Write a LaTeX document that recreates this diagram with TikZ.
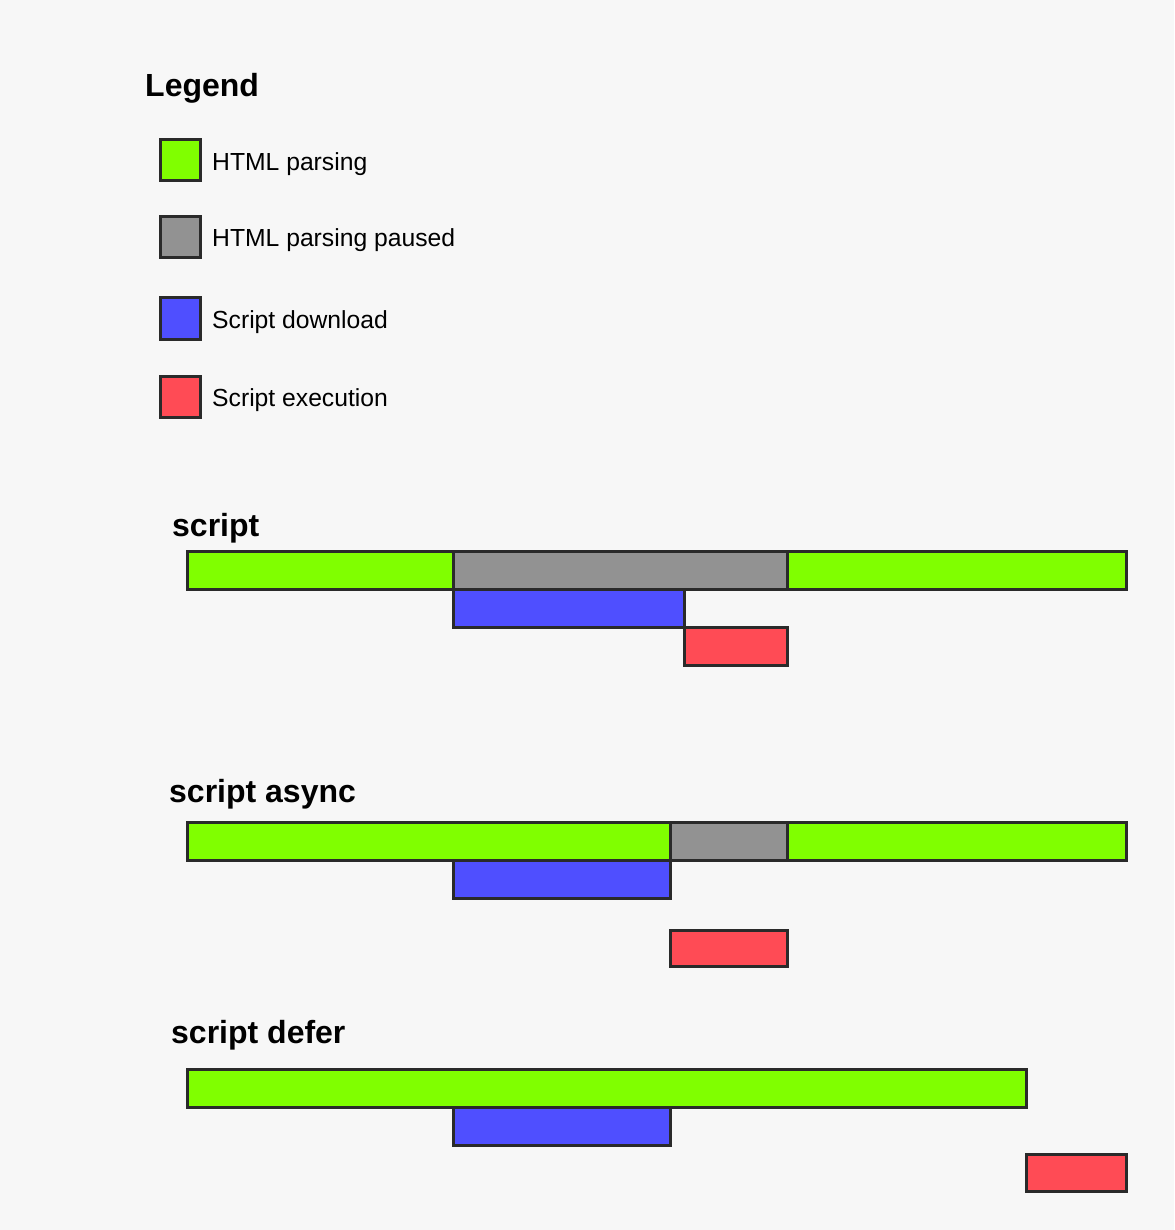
\documentclass[tikz,border=0pt]{standalone}
\usepackage{fontspec}
\setmainfont{Liberation Sans}
\definecolor{bgc}{HTML}{F7F7F7}
\definecolor{edgec}{HTML}{2A2A2A}
\definecolor{parsec}{HTML}{80FF00}
\definecolor{pausec}{HTML}{929292}
\definecolor{downc}{HTML}{4F4FFF}
\definecolor{execc}{HTML}{FF4B55}
\tikzset{
  segbox/.style={draw=edgec,line width=3pt,rectangle,inner sep=0pt,outer sep=0pt},
  headtxt/.style={anchor=base west,inner sep=0pt,font=\fontsize{32}{38}\selectfont\bfseries},
  legtxt/.style={anchor=base west,inner sep=0pt,font=\fontsize{24.7}{30}\selectfont},
}
\newcommand\seg[6]{\node[segbox,fill=#6,minimum width={(#4-#2)*1pt},minimum height={(#5-#3)*1pt}] (#1) at ({(#2+#4)/2},{(#3+#5)/2}) {};}
\begin{document}
\begin{tikzpicture}[x=1pt,y=-1pt]
\fill[bgc] (0,0) rectangle (1174,1230);
\useasboundingbox (0,0) rectangle (1174,1230);
% Legend
\node[headtxt] (legend) at (145,97) {Legend};
\seg{lg1}{160}{140}{200}{181}{parsec}
\seg{lg2}{160}{217}{200}{258}{pausec}
\seg{lg3}{160}{298}{200}{339}{downc}
\seg{lg4}{160}{376}{200}{417}{execc}
\node[legtxt] (lt1) at (212,171) {HTML parsing};
\node[legtxt] (lt2) at (212,247) {HTML parsing paused};
\node[legtxt] (lt3) at (212,328) {Script download};
\node[legtxt] (lt4) at (212,406) {Script execution};
% script
\node[headtxt] (h1) at (172,536) {script};
\seg{a1}{187}{551}{453}{589}{parsec}
\seg{a3}{787}{551}{1126}{589}{parsec}
\seg{a2}{453}{551}{787}{589}{pausec}
\seg{a4}{453}{589}{684}{627}{downc}
\seg{a5}{684}{627}{787}{665}{execc}
% script async
\node[headtxt] (h2) at (169,802) {script async};
\seg{b1}{187}{822}{670}{860}{parsec}
\seg{b3}{787}{822}{1126}{860}{parsec}
\seg{b2}{670}{822}{787}{860}{pausec}
\seg{b4}{453}{860}{670}{898}{downc}
\seg{b5}{670}{930}{787}{966}{execc}
% script defer
\node[headtxt] (h3) at (171,1043) {script defer};
\seg{c1}{187}{1069}{1026}{1107}{parsec}
\seg{c2}{453}{1107}{670}{1145}{downc}
\seg{c3}{1026}{1154}{1126}{1191}{execc}
\end{tikzpicture}
\end{document}
